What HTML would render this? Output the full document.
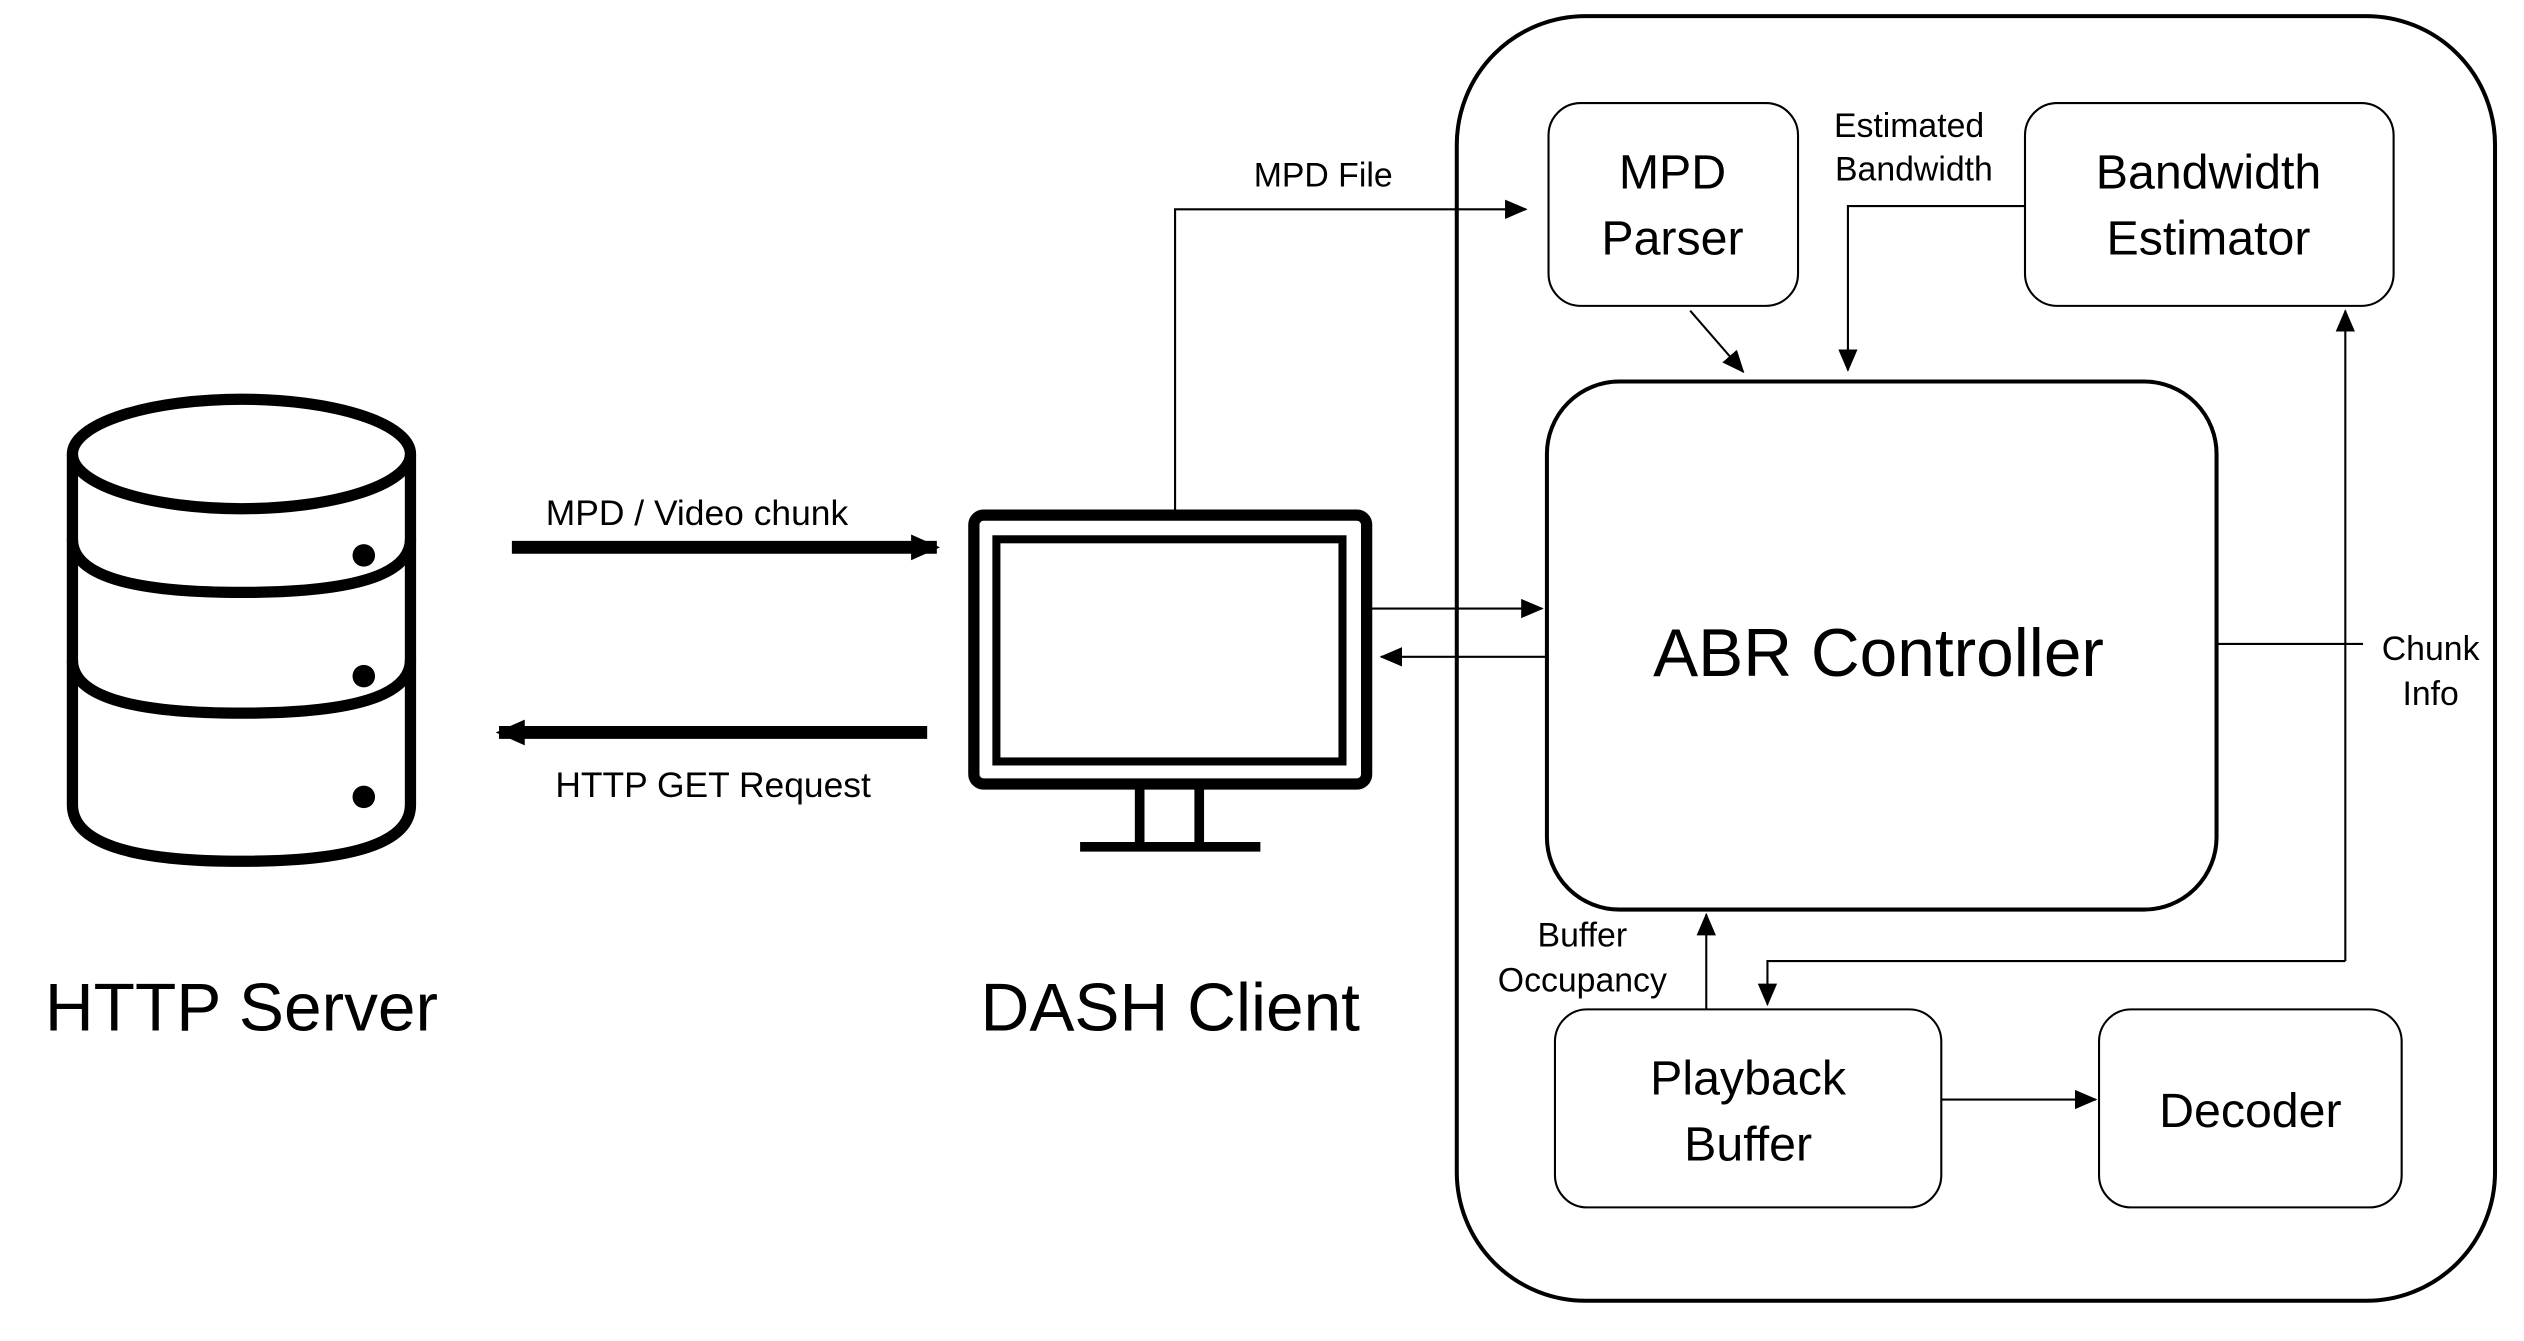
<!DOCTYPE html>
<html><head><meta charset="utf-8"><style>
html,body{margin:0;padding:0;background:#fff;}
svg{display:block;}
text{font-family:"Liberation Sans",sans-serif;fill:#000;}
</style></head><body>
<svg width="2524" height="1341" viewBox="0 0 1568 833" preserveAspectRatio="none" xmlns="http://www.w3.org/2000/svg">
<defs>
<marker id="a" markerWidth="14" markerHeight="12" refX="13" refY="6" orient="auto" markerUnits="userSpaceOnUse" viewBox="0 0 14 12"><path d="M0,0 L14,6 L0,12 z" fill="#000"/></marker>
<marker id="b" markerWidth="18" markerHeight="18" refX="16" refY="9" orient="auto" markerUnits="userSpaceOnUse" viewBox="0 0 18 18"><path d="M0,1 L18,9 L0,17 z" fill="#000"/></marker>
</defs>
<rect x="905" y="10" width="645" height="798" rx="80" fill="none" stroke="#000" stroke-width="2.5"/>
<rect x="962" y="64" width="155" height="126" rx="20" fill="none" stroke="#000" stroke-width="1.3"/>
<text x="1039" y="117" font-size="30" text-anchor="middle">MPD</text>
<text x="1039" y="158" font-size="30" text-anchor="middle">Parser</text>
<rect x="1258" y="64" width="229" height="126" rx="20" fill="none" stroke="#000" stroke-width="1.3"/>
<text x="1372" y="117" font-size="30" text-anchor="middle">Bandwidth</text>
<text x="1372" y="158" font-size="30" text-anchor="middle">Estimator</text>
<text x="1186" y="85" font-size="21" text-anchor="middle">Estimated</text>
<text x="1189" y="112" font-size="21" text-anchor="middle">Bandwidth</text>
<rect x="961" y="237" width="416" height="328" rx="45" fill="none" stroke="#000" stroke-width="2.5"/>
<text x="1167" y="420" font-size="42" text-anchor="middle">ABR Controller</text>
<rect x="966" y="627" width="240" height="123" rx="20" fill="none" stroke="#000" stroke-width="1.3"/>
<text x="1086" y="680" font-size="30" text-anchor="middle">Playback</text>
<text x="1086" y="721" font-size="30" text-anchor="middle">Buffer</text>
<rect x="1304" y="627" width="188" height="123" rx="20" fill="none" stroke="#000" stroke-width="1.3"/>
<text x="1398" y="700" font-size="30" text-anchor="middle">Decoder</text>
<g stroke="#000" stroke-width="1.3" fill="none">
<line x1="1050" y1="193" x2="1083" y2="231" marker-end="url(#a)"/>
<polyline points="1258,128 1148,128 1148,230" marker-end="url(#a)"/>
<line x1="1377" y1="400" x2="1468" y2="400"/>
<line x1="1457" y1="597" x2="1457" y2="193" marker-end="url(#a)"/>
<polyline points="1457,597 1098,597 1098,624" marker-end="url(#a)"/>
<line x1="1060" y1="627" x2="1060" y2="568" marker-end="url(#a)"/>
<line x1="1206" y1="683" x2="1302" y2="683" marker-end="url(#a)"/>
<line x1="852" y1="378" x2="958" y2="378" marker-end="url(#a)"/>
<line x1="962" y1="408" x2="858" y2="408" marker-end="url(#a)"/>
<polyline points="730,318 730,130 948,130" marker-end="url(#a)"/>
</g>
<text x="1510" y="410" font-size="21" text-anchor="middle">Chunk</text>
<text x="1510" y="438" font-size="21" text-anchor="middle">Info</text>
<text x="983" y="588" font-size="21" text-anchor="middle">Buffer</text>
<text x="983" y="616" font-size="21" text-anchor="middle">Occupancy</text>
<text x="822" y="116" font-size="21" text-anchor="middle">MPD File</text>
<line x1="318" y1="340" x2="582" y2="340" stroke="#000" stroke-width="8" marker-end="url(#b)"/>
<text x="433" y="326" font-size="22" text-anchor="middle">MPD / Video chunk</text>
<line x1="576" y1="455" x2="310" y2="455" stroke="#000" stroke-width="8" marker-end="url(#b)"/>
<text x="443" y="495" font-size="22" text-anchor="middle">HTTP GET Request</text>
<rect x="605" y="320" width="244" height="167" rx="6" fill="none" stroke="#000" stroke-width="7"/>
<rect x="619" y="335" width="215" height="138" fill="none" stroke="#000" stroke-width="5"/>
<line x1="708" y1="488" x2="708" y2="526" stroke="#000" stroke-width="6"/>
<line x1="745" y1="488" x2="745" y2="526" stroke="#000" stroke-width="6"/>
<line x1="671" y1="526" x2="783" y2="526" stroke="#000" stroke-width="6"/>
<g fill="none" stroke="#000" stroke-width="7">
<ellipse cx="150" cy="282" rx="105" ry="34"/>
<path d="M45,282 L45,500 Q45,535 150,535 Q255,535 255,500 L255,282"/>
<path d="M45,335 Q45,368 150,368 Q255,368 255,335"/>
<path d="M45,410 Q45,443 150,443 Q255,443 255,410"/>
</g>
<circle cx="226" cy="345" r="7" fill="#000"/>
<circle cx="226" cy="420" r="7" fill="#000"/>
<circle cx="226" cy="495" r="7" fill="#000"/>
<text x="150" y="640" font-size="42" text-anchor="middle">HTTP Server</text>
<text x="727" y="640" font-size="42" text-anchor="middle">DASH Client</text>
</svg>
</body></html>
